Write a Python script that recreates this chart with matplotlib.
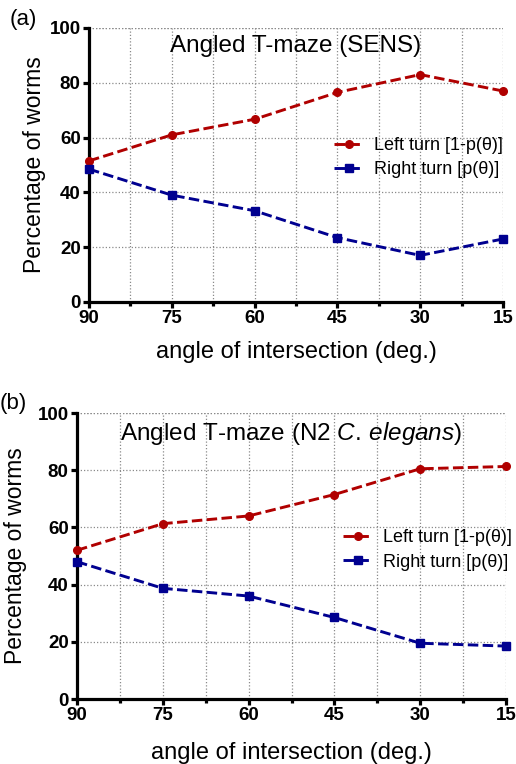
import matplotlib
matplotlib.use('Agg')
import matplotlib.pyplot as plt
from matplotlib.ticker import MultipleLocator

plt.rcParams['font.family'] = ['Liberation Sans', 'DejaVu Sans']
plt.rcParams['mathtext.fontset'] = 'custom'
plt.rcParams['mathtext.rm'] = 'Liberation Sans'
plt.rcParams['mathtext.it'] = 'Liberation Sans:italic'

# angles of intersection (deg.)
angles = [90, 75, 60, 45, 30, 15]

# panel (a): SENS
sens_left = [51.5, 61.0, 66.7, 76.5, 83.0, 77.0]
sens_right = [48.5, 39.0, 33.3, 23.5, 17.0, 23.0]

# panel (b): N2 C. elegans
n2_left = [52.0, 61.3, 64.0, 71.5, 80.5, 81.3]
n2_right = [48.0, 38.7, 36.0, 28.5, 19.5, 18.5]

yticks = [0, 20, 40, 60, 80, 100]
xticks = [90, 75, 60, 45, 30, 15]

red = '#b00000'
blue = '#000090'

W, H = 516, 764
fig = plt.figure(figsize=(W / 100, H / 100), dpi=100)

dash = (0, (3.6, 1.5))
grid_kw = dict(ls=(0, (1, 1.6)), color='#8a8a8a', lw=0.9)


def panel(rect, left, right, title, tag, tag_xy, ylab_x, xlab_y, leg_anchor):
    ax = fig.add_axes(rect)
    ax.plot(angles, left, color=red, ls=dash, lw=2.1, marker='o', ms=5.5,
            label='Left turn [1-p(θ)]', clip_on=False, zorder=3)
    ax.plot(angles, right, color=blue, ls=dash, lw=2.1, marker='s', ms=5.5,
            label='Right turn [p(θ)]', clip_on=False, zorder=3)
    ax.set_xlim(90, 15)
    ax.set_ylim(0, 100)
    ax.set_xticks(xticks)
    ax.set_yticks(yticks)
    ax.xaxis.set_minor_locator(MultipleLocator(7.5))
    ax.grid(True, which='both', axis='x', **grid_kw)
    ax.grid(True, which='major', axis='y', **grid_kw)
    ax.axhline(100, **grid_kw)
    for s in ['top', 'right']:
        ax.spines[s].set_visible(False)
    for s in ['left', 'bottom']:
        ax.spines[s].set_linewidth(2.3)
    ax.tick_params(which='major', direction='out', width=2.3, length=4, labelsize=13.5, pad=2)
    ax.tick_params(which='minor', direction='out', width=2.3, length=3)
    for t in ax.get_xticklabels() + ax.get_yticklabels():
        t.set_fontweight('bold')
    ax.legend(loc='center right', bbox_to_anchor=leg_anchor, frameon=False,
              fontsize=13, handlelength=1.6, handletextpad=0.6, labelspacing=0.4,
              borderaxespad=0, borderpad=0)
    ax.text(0.5, 0.975, title, transform=ax.transAxes, ha='center', va='top', fontsize=17.5)
    fig.text(tag_xy[0] / W, 1 - tag_xy[1] / H, tag, fontsize=16, ha='left', va='center')
    mid_y = (1 - rect[1] - rect[3] / 2) * H
    fig.text(ylab_x / W, 1 - mid_y / H, 'Percentage of worms', rotation=90,
             fontsize=16.5, ha='center', va='center')
    fig.text(rect[0] + rect[2] / 2, 1 - xlab_y / H, 'angle of intersection (deg.)',
             fontsize=17, ha='center', va='center')
    return ax


rect_a = [89 / W, 1 - 302 / H, (503 - 89) / W, (302 - 28) / H]
rect_b = [77 / W, 1 - 699 / H, (506 - 77) / W, (699 - 413) / H]

panel(rect_a, sens_left, sens_right, 'Angled T-maze (SENS)', '(a)', (10, 20), 35, 352,
      (1.0, 0.527))
panel(rect_b, n2_left, n2_right, 'Angled T-maze (N2 $\\it{C.\\,elegans}$)', '(b)', (0, 404), 16, 753,
      (1.014, 0.521))

fig.savefig('out.png', dpi=100)
